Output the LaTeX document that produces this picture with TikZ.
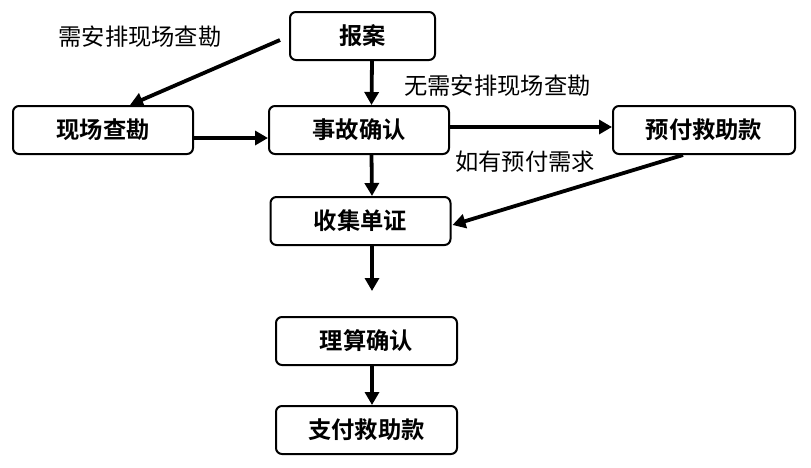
\documentclass[tikz,border=0pt]{standalone}
\usepackage{fontspec}
\setmainfont{Noto Sans CJK SC}
\newfontfamily\boxfont{Noto Sans CJK SC Bold}
\usetikzlibrary{arrows.meta}
\begin{document}
\begin{tikzpicture}[x=1pt,y=-1pt,
  flowbox/.style={draw=black,line width=2pt,rounded corners=6pt,minimum width=180pt,minimum height=48pt,inner sep=0pt,font=\boxfont\fontsize{23.3}{26}\selectfont},
  arr/.style={line width=3.8pt,-{Triangle[length=13pt,width=14pt]}},
  lbl/.style={font=\fontsize{23.3}{26}\selectfont,inner sep=0pt,text=black}]
\useasboundingbox (0,0) rectangle (811,467);
\node[flowbox,minimum width=145pt] (bao) at (362.5,36) {报案};
\node[flowbox] (xc) at (103,130) {现场查勘};
\node[flowbox] (sg) at (359,130) {事故确认};
\node[flowbox,minimum width=182pt] (yf) at (704,130) {预付救助款};
\node[flowbox] (sj) at (360.5,221) {收集单证};
\node[flowbox,minimum width=181pt] (ls) at (366.5,341) {理算确认};
\node[flowbox,minimum width=181pt] (zf) at (366.5,430) {支付救助款};
\coordinate (sjout) at (372,291);
\node[lbl] (l1) at (140,37) {需安排现场查勘};
\node[lbl] (l2) at (497.5,86) {无需安排现场查勘};
\node[lbl] (l3) at (525,162) {如有预付需求};
\draw[arr] ([xshift=-9pt,yshift=-4pt]bao.west) -- ([xshift=27pt]xc.north);
\draw[arr] ([xshift=9.5pt]bao.south) -- ([xshift=12.5pt]sg.north);
\draw[arr] ([yshift=-8pt]xc.east) -- ([yshift=-8pt]sg.west);
\draw[arr] ([yshift=3pt]sg.east) -- ([yshift=3pt]yf.west);
\draw[arr] ([xshift=12.5pt]sg.south) -- ([xshift=11.5pt]sj.north);
\draw[arr] ([xshift=-21pt]yf.south) -- ([xshift=1pt,yshift=-4pt]sj.east);
\draw[arr] ([xshift=11.5pt]sj.south) -- (sjout);
\draw[arr] ([xshift=5.5pt]ls.south) -- ([xshift=5.5pt]zf.north);
\end{tikzpicture}
\end{document}
